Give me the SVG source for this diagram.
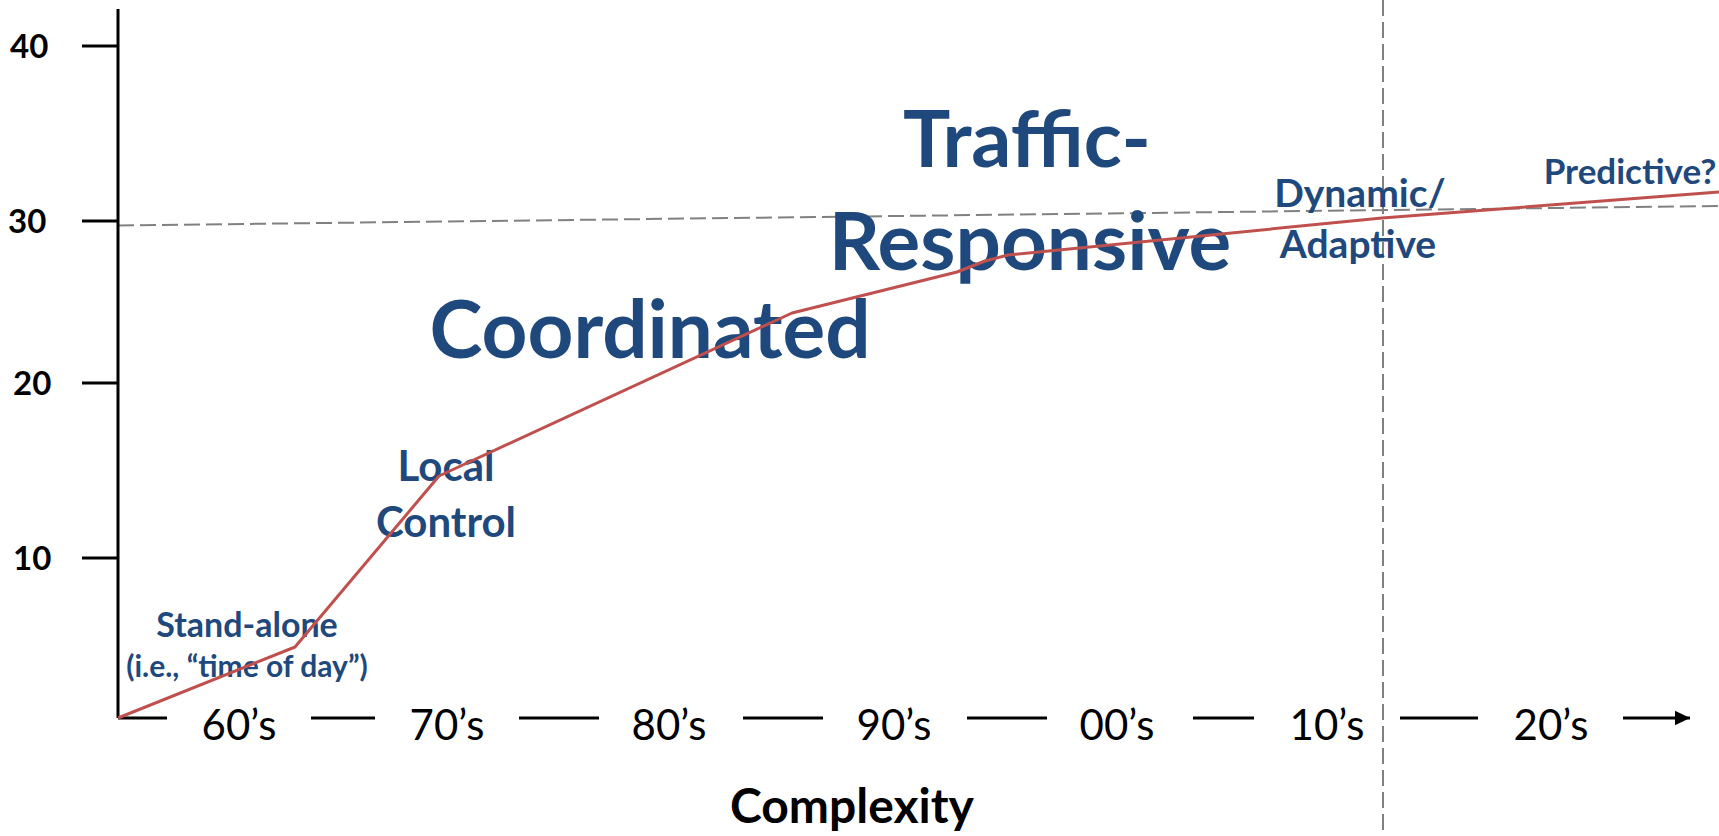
<svg xmlns="http://www.w3.org/2000/svg" width="1719" height="836" viewBox="0 0 1719 836">
<style>
.ax{stroke:#000;stroke-width:3;fill:none}
.dash{stroke:#808080;stroke-width:2;stroke-dasharray:16 6;fill:none}
.curve{stroke:#c0504d;stroke-width:3;fill:none;stroke-linejoin:round}
.num{font-family:Lato,"Liberation Sans",sans-serif;font-weight:bold;font-size:33px;fill:#000}
.dec{font-family:Lato,"Liberation Sans",sans-serif;font-size:42px;fill:#000;text-anchor:middle}
.lbl{font-family:Lato,"Liberation Sans",sans-serif;font-weight:bold;fill:#1f497d;text-anchor:middle}
</style>
<defs>
<marker id="arr" markerWidth="6" markerHeight="6" refX="5" refY="3" orient="auto" markerUnits="strokeWidth">
<path d="M0,0.6 L5,3 L0,5.4 Z" fill="#000"/>
</marker>
</defs>
<g id="guides">
<line class="dash" x1="118" y1="225.5" x2="1719" y2="206"/>
<line class="dash" x1="1383" y1="0" x2="1383" y2="836"/>
</g>
<g id="y-axis">
<line class="ax" x1="118" y1="9" x2="118" y2="718"/>
<line class="ax" x1="82" y1="46" x2="118" y2="46"/>
<line class="ax" x1="82" y1="221" x2="118" y2="221"/>
<line class="ax" x1="82" y1="383" x2="118" y2="383"/>
<line class="ax" x1="82" y1="558" x2="118" y2="558"/>
<text class="num" x="10" y="58">40</text>
<text class="num" x="8" y="233">30</text>
<text class="num" x="13" y="395">20</text>
<text class="num" x="13" y="570">10</text>
</g>
<g id="x-axis">
<line class="ax" x1="118" y1="718" x2="167" y2="718"/>
<line class="ax" x1="311" y1="718" x2="375" y2="718"/>
<line class="ax" x1="519" y1="718" x2="599" y2="718"/>
<line class="ax" x1="743" y1="718" x2="823" y2="718"/>
<line class="ax" x1="967" y1="718" x2="1047" y2="718"/>
<line class="ax" x1="1193" y1="718" x2="1254" y2="718"/>
<line class="ax" x1="1400" y1="718" x2="1478" y2="718"/>
<line class="ax" x1="1623" y1="718" x2="1690" y2="718" marker-end="url(#arr)"/>
<text class="dec" x="239" y="740">60’s</text>
<text class="dec" x="447" y="740">70’s</text>
<text class="dec" x="669" y="740">80’s</text>
<text class="dec" x="894" y="740">90’s</text>
<text class="dec" x="1117" y="740">00’s</text>
<text class="dec" x="1327" y="740">10’s</text>
<text class="dec" x="1551" y="740">20’s</text>
<text class="lbl" x="852" y="823" style="font-size:48px;fill:#000">Complexity</text>
</g>
<g id="stand-alone">
<text class="lbl" x="247" y="637" style="font-size:34px">Stand-alone</text>
<text class="lbl" x="247" y="677" style="font-size:30px">(i.e., “time of day”)</text>
</g>
<g id="local-control">
<text class="lbl" x="446" y="481" style="font-size:42px">Local</text>
<text class="lbl" x="446" y="537" style="font-size:42px">Control</text>
</g>
<g id="coordinated">
<text class="lbl" x="650" y="358" style="font-size:80px">Coordinated</text>
</g>
<g id="traffic-responsive">
<text class="lbl" x="1027" y="167" style="font-size:79px">Traffic-</text>
<text class="lbl" x="1030" y="270" style="font-size:80px">Responsive</text>
</g>
<g id="dynamic-adaptive">
<text class="lbl" x="1360" y="207" style="font-size:39px">Dynamic/</text>
<text class="lbl" x="1358" y="258" style="font-size:39px">Adaptive</text>
</g>
<g id="predictive">
<text class="lbl" x="1630" y="184" style="font-size:35px">Predictive?</text>
</g>
<g id="connectors">
<polyline class="curve" points="118,718 295,647 439,476 792,313 957,272 985,261 1008,255 1382,218 1719,192"/>
</g>
</svg>
